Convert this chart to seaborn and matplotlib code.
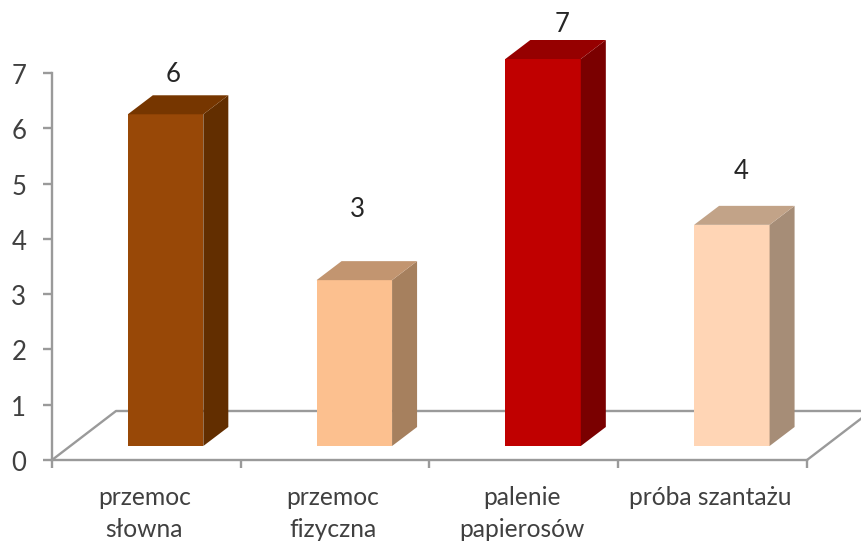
import matplotlib
matplotlib.use('Agg')
import matplotlib.pyplot as plt
from matplotlib.patches import Polygon
from matplotlib.ticker import FixedLocator
from matplotlib.transforms import ScaledTranslation
import pandas as pd
import seaborn as sns

categories = ['przemoc\nsłowna', 'przemoc\nfizyczna', 'palenie\npapierosów', 'próba szantażu']
values = [6, 3, 7, 4]

front_colors = ['#984807', '#FCC08F', '#C00000', '#FFD5B5']
top_colors = ['#763600', '#C29570', '#960000', '#C2A388']
side_colors = ['#622E00', '#A6805E', '#7A0000', '#A68D77']
# where the number sits relative to the top centre of the front face (px)
label_offsets = [(8, 39.5), (3, 70.5), (19, 34), (9, 53.5)]

sns.set_style('white')
plt.rcParams['font.family'] = ['Lato', 'DejaVu Sans']

df = pd.DataFrame({'kategoria': categories, 'liczba': values})

fig = plt.figure(figsize=(8.62, 5.41), dpi=100)
ax = fig.add_axes([52 / 862, 81 / 541, 755 / 862, 387 / 541])

sns.barplot(data=df, x='kategoria', y='liczba', hue='kategoria', palette=front_colors,
            width=0.4, legend=False, saturation=1, ax=ax, zorder=3)

ax.set_xlim(-0.5, 3.5)
ax.set_ylim(0, 7)
ax.set_xlabel('')
ax.set_ylabel('')

# pixel sizes of the fake 3D turned into data units
unit_x = 755 / 4
unit_y = 387 / 7
shift_x = 19.2 / unit_x
shift_y = 14 / unit_y
depth_x = 25 / unit_x
depth_y = 19 / unit_y
floor_x = 64 / unit_x
floor_y = 49 / unit_y

line_color = '#9A9A9A'
text_color = '#404040'

# podloga
ax.plot([-0.5, -0.5 + floor_x, 3.5 + floor_x, 3.5], [0, floor_y, floor_y, 0],
        color=line_color, lw=1.7, clip_on=False, zorder=1)

for i, bar in enumerate(ax.patches):
    bar.set_x(bar.get_x() + shift_x)
    bar.set_y(shift_y)
    bar.set_edgecolor('none')
    bar.set_linewidth(0)
    bar.set_clip_on(False)
    x0 = bar.get_x()
    x1 = x0 + bar.get_width()
    y0 = bar.get_y()
    y1 = y0 + bar.get_height()
    ax.add_patch(Polygon([(x1, y0), (x1 + depth_x, y0 + depth_y), (x1 + depth_x, y1 + depth_y), (x1, y1)],
                         facecolor=side_colors[i], edgecolor='none', clip_on=False, zorder=3))
    ax.add_patch(Polygon([(x0, y1), (x1, y1), (x1 + depth_x, y1 + depth_y), (x0 + depth_x, y1 + depth_y)],
                         facecolor=top_colors[i], edgecolor='none', clip_on=False, zorder=3))
    ax.annotate(str(values[i]), xy=((x0 + x1) / 2, y1), xytext=label_offsets[i],
                textcoords='offset pixels', ha='center', va='center',
                fontsize=18.5, color='#262626', annotation_clip=False)

sns.despine(ax=ax)
for side in ['left', 'bottom']:
    ax.spines[side].set_color(line_color)
    ax.spines[side].set_linewidth(1.7)

ax.set_yticks(range(0, 8))
ax.tick_params(axis='y', length=6.5, width=1.7, color=line_color, labelcolor=text_color,
               labelsize=18.5, pad=12, left=True)
ax.xaxis.set_minor_locator(FixedLocator([-0.5, 0.5, 1.5, 2.5, 3.5]))
ax.tick_params(axis='x', which='minor', length=6, width=1.7, color=line_color, bottom=True)
ax.tick_params(axis='x', which='major', length=0, labelcolor=text_color, labelsize=17.7, pad=18.7)
nudge = ScaledTranslation(-2 / 100, 0, fig.dpi_scale_trans)
for lab in ax.get_xticklabels():
    lab.set_linespacing(1.46)
    lab.set_transform(lab.get_transform() + nudge)
nudge_y = ScaledTranslation(0, -1 / 100, fig.dpi_scale_trans)
for lab in ax.get_yticklabels():
    lab.set_transform(lab.get_transform() + nudge_y)

fig.savefig('out.png', dpi=100)
